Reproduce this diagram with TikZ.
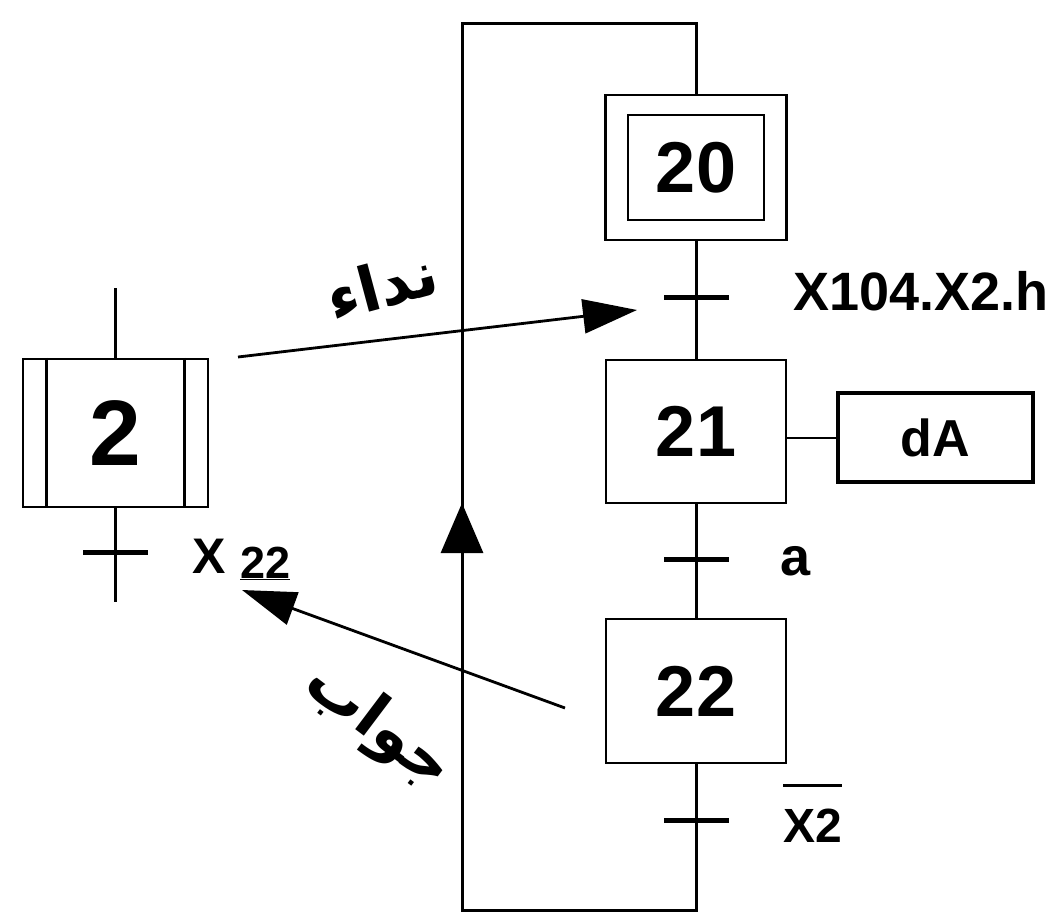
\documentclass[tikz,border=0pt]{standalone}
\usepackage{fontspec}
\setmainfont{Liberation Sans}
\newfontfamily\arabicfont[Script=Arabic]{DejaVu Sans}
\TeXXeTstate=1
\usetikzlibrary{arrows.meta,calc}
\begin{document}
\begin{tikzpicture}[x=1pt,y=-1pt,
  stepbox/.style={draw, line width=2.5pt, inner sep=0pt, font=\fontsize{72}{72}\selectfont\bfseries},
  tbar/.style={fill=black, draw=none, minimum width=65pt, minimum height=5pt, inner sep=0pt},
  link/.style={line width=3pt},
  lab/.style={inner sep=0pt, font=\fontsize{54}{54}\selectfont\bfseries},
  arlab/.style={inner sep=0pt, font=\arabicfont\bfseries\fontsize{62}{62}\selectfont},
  bigarrow/.style={line width=2.8pt, -{Triangle[length=54pt,width=34pt]}},
]
\useasboundingbox (0,0) rectangle (1059,915);
\fill[white] (0,0) rectangle (1059,915);

% main sequence
\node[stepbox, minimum width=181pt, minimum height=145pt] (s20) at (696,167.5) {};
\node[stepbox, minimum width=136pt, minimum height=105pt] (s20i) at (696,167.5) {20};
\node[stepbox, minimum width=180pt, minimum height=143pt] (s21) at (696,431.5) {21};
\node[stepbox, minimum width=180pt, minimum height=144pt] (s22) at (696,691) {22};
\node[draw, line width=3.5pt, minimum width=195pt, minimum height=89pt, inner sep=0pt,
      font=\fontsize{52}{52}\selectfont\bfseries] (dA) at (935.5,437.5) {dA};

\node[tbar] (t1) at (696,297) {};
\node[tbar] (t2) at (696,559) {};
\node[tbar] (t3) at (696,820) {};

\draw[link] (s20.south) -- (s21.north);
\draw[link] (s21.south) -- (s22.north);
\draw[line width=2pt] (s21.east |- dA.west) -- (dA.west);

\coordinate (lb) at (462,910);
\coordinate (lt) at (462,24);
\draw[link, line join=miter] (s22.south) |- (lb) -- (lt) -| (s20.north);
\coordinate (upbase) at (462,560);
\coordinate (uptip) at (462,503);
\draw[link, -{Triangle[length=50pt,width=42pt]}] (upbase) -- (uptip);

% labels of transitions
\node[lab, anchor=base west] (l1) at (793,310) {X104.X2.h};
\node[lab, anchor=base west] (l2) at (780,575) {a};
\node[lab, anchor=base west, font=\fontsize{48}{48}\selectfont\bfseries] (l3) at (783,842) {X2};
\draw[line width=3pt] ($(l3.north west)+(0,-23)$) -- ($(l3.north east)+(0,-23)$);

% macro step 2
\node[stepbox, minimum width=185pt, minimum height=148pt, font=\fontsize{93}{93}\selectfont\bfseries] (s2) at (115.5,433) {2};
\draw[link] ($(s2.north west)+(25,0)$) -- ($(s2.south west)+(25,0)$);
\draw[link] ($(s2.north east)+(-25,0)$) -- ($(s2.south east)+(-25,0)$);
\coordinate (s2top) at (115.5,288);
\coordinate (s2bot) at (115.5,602);
\draw[link] (s2top) -- (s2.north);
\draw[link] (s2.south) -- (s2bot);
\node[tbar] (t4) at (115.5,552) {};
\node[lab, anchor=base west, font=\fontsize{50}{50}\selectfont\bfseries] (lx) at (192,573) {X};
\node[lab, anchor=base west, font=\fontsize{45}{45}\selectfont\bfseries] (l22) at (240,578) {\underline{22}};

% call / answer
\coordinate (c1) at (238,357);
\coordinate (c2) at (637,310);
\draw[bigarrow] (c1) -- (c2);
\node[arlab, rotate=15] (call) at (382,285) {\beginR نداء\endR};

\coordinate (a1) at (565,708);
\coordinate (a2) at (242,590);
\draw[bigarrow] (a1) -- (a2);
\node[arlab, rotate=-37] (ans) at (378,727) {\beginR جواب\endR};
\end{tikzpicture}
\end{document}
